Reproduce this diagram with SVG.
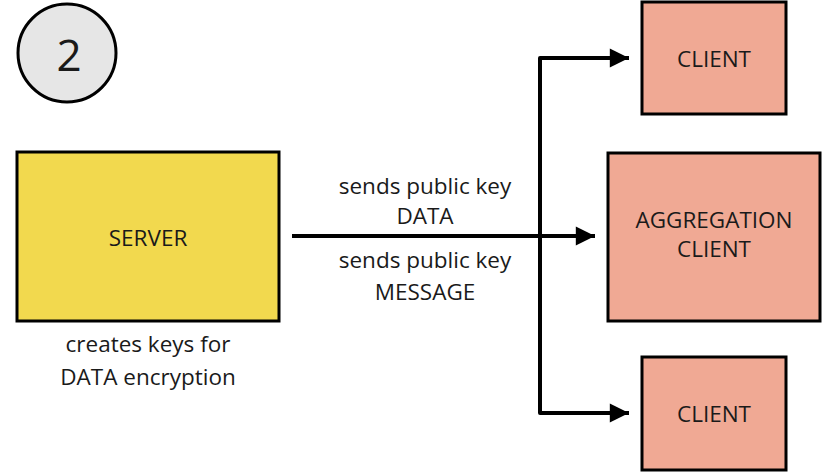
<svg xmlns="http://www.w3.org/2000/svg" width="827" height="475" viewBox="0 0 827 475">
<defs>
<style>
text{font-family:"Open Sans","Noto Sans","Liberation Sans",sans-serif;font-size:22.5px;fill:#1a1a1a;text-anchor:middle;dominant-baseline:central}
.box{stroke:#000;stroke-width:3}
.client{fill:#f0a994}
.conn{fill:none;stroke:#000;stroke-width:4;stroke-linejoin:round}
</style>
<marker id="arr" viewBox="0 0 10 10" refX="10" refY="5" markerWidth="5.2" markerHeight="4.8" markerUnits="strokeWidth" orient="auto">
<path d="M0,0 L10,5 L0,10 z" fill="#000"/>
</marker>
</defs>
<rect width="827" height="475" fill="#fff"/>
<g id="step">
<circle cx="67" cy="53" r="49" fill="#e6e6e6" stroke="#000" stroke-width="3"/>
<text x="69" y="54" style="font-size:44px">2</text>
</g>
<g id="connectors">
<path class="conn" d="M292,236 L595,236" marker-end="url(#arr)"/>
<path class="conn" d="M540,236 L540,58 L629,58" marker-end="url(#arr)"/>
<path class="conn" d="M540,236 L540,413 L629,413" marker-end="url(#arr)"/>
<text x="425" y="185">sends public key</text>
<text x="425" y="215">DATA</text>
<text x="425" y="259">sends public key</text>
<text x="425" y="291">MESSAGE</text>
</g>
<g id="server">
<rect class="box" x="17" y="152" width="262" height="169" fill="#f2d94e"/>
<text x="148" y="237">SERVER</text>
<text x="148" y="343">creates keys for</text>
<text x="148" y="376">DATA encryption</text>
</g>
<g id="client-top">
<rect class="box client" x="642" y="2" width="144" height="112"/>
<text x="714" y="58">CLIENT</text>
</g>
<g id="aggregation-client">
<rect class="box client" x="608" y="153" width="212" height="168"/>
<text x="714" y="219">AGGREGATION</text>
<text x="714" y="248">CLIENT</text>
</g>
<g id="client-bottom">
<rect class="box client" x="642" y="357" width="144" height="113"/>
<text x="714" y="413">CLIENT</text>
</g>
</svg>
